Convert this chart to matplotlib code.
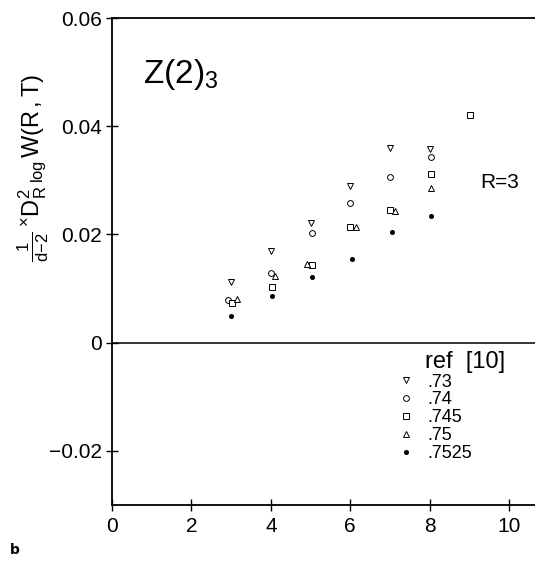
import matplotlib
matplotlib.use("Agg")
import matplotlib.pyplot as plt
from matplotlib.ticker import FixedLocator, FixedFormatter

plt.rcParams.update({
    "font.family": ["Liberation Sans Narrow", "Liberation Sans", "DejaVu Sans"],
    "mathtext.fontset": "custom",
    "mathtext.rm": "Liberation Sans",
    "mathtext.it": "Liberation Sans",
    "mathtext.bf": "Liberation Sans:bold",
})

# data: T values and reduced derivative per coupling
x_073 = [3.0, 4.0, 5.0, 6.0, 7.0, 8.0]
y_073 = [0.0113, 0.0170, 0.0222, 0.0290, 0.0359, 0.0357]

x_074 = [2.92, 4.0, 5.03, 6.0, 7.0, 8.04]
y_074 = [0.0078, 0.0128, 0.0203, 0.0259, 0.0307, 0.0344]

x_0745 = [3.02, 4.03, 5.03, 6.0, 7.0, 8.04, 9.02]
y_0745 = [0.0073, 0.0103, 0.0144, 0.0213, 0.0246, 0.0312, 0.0420]

x_075 = [3.15, 4.1, 4.9, 6.15, 7.13, 8.04]
y_075 = [0.0080, 0.0124, 0.0146, 0.0213, 0.0244, 0.0286]

x_07525 = [3.0, 4.03, 5.03, 6.05, 7.05, 8.04]
y_07525 = [0.0050, 0.0087, 0.0122, 0.0155, 0.0205, 0.0235]

series = [
    (".73", x_073, y_073, "v"),
    (".74", x_074, y_074, "o"),
    (".745", x_0745, y_0745, "s"),
    (".75", x_075, y_075, "^"),
    (".7525", x_07525, y_07525, "."),
]

x_ticks = [0, 2, 4, 6, 8, 10]
y_ticks = [-0.02, 0, 0.02, 0.04, 0.06]
y_ticklabels = ["\u22120.02", "0", "0.02", "0.04", "0.06"]

fig = plt.figure(figsize=(5.35, 5.64), dpi=100)
ax = fig.add_axes([112 / 535, 59 / 564, 430 / 535, 487 / 564])

for name, xs, ys, m in series:
    if m == ".":
        ax.plot(xs, ys, linestyle="none", marker="o", markersize=2.6,
                color="black", label=name)
    else:
        ax.plot(xs, ys, linestyle="none", marker=m, markersize=4.2,
                markerfacecolor="white", markeredgecolor="black",
                markeredgewidth=0.7, label=name)

ax.set_xlim(0, 10.83)
ax.set_ylim(-0.03, 0.06)
ax.axhline(0, color="black", linewidth=1.1)

ax.xaxis.set_major_locator(FixedLocator(x_ticks))
ax.yaxis.set_major_locator(FixedLocator(y_ticks))
ax.yaxis.set_major_formatter(FixedFormatter(y_ticklabels))
ax.tick_params(axis="both", direction="inout", length=9, width=1.0,
               labelsize=15, pad=3)
ax.tick_params(axis="y", right=True)
ax.tick_params(axis="x", pad=4)
for s in ["left", "bottom", "top", "right"]:
    ax.spines[s].set_linewidth(1.3)

# labels inside the panel
fig.text(143 / 535, 1 - 74 / 564, r"Z(2)$_{3}$", fontsize=24,
         ha="left", va="center")
fig.text(480 / 535, 1 - 182 / 564, "R=3", fontsize=15,
         ha="left", va="center")
fig.text(10 / 535, 1 - 550 / 564, "b", fontsize=10, fontweight="bold",
         family="DejaVu Sans", ha="left", va="center")

fig.text(33 / 535, 1 - 168 / 564,
         r"$\frac{1}{d\!-\!2}\,{}^{\times}\mathrm{D}_{\mathrm{R}}^{2}\,{}_{\log}\mathrm{W(R\,,T)}$",
         fontsize=17, rotation=90, ha="center", va="center")

leg = ax.legend(loc="upper left", bbox_to_anchor=(274 / 430, (505 - 338) / 487),
                title="ref  [10]", frameon=False, fontsize=13,
                title_fontsize=17, handlelength=0.8, handletextpad=0.8,
                labelspacing=0.05, borderpad=0.2, alignment="left")
leg._legend_box.align = "left"
leg.get_title().set_position((26, 0))

fig.savefig("out.png", dpi=100)
